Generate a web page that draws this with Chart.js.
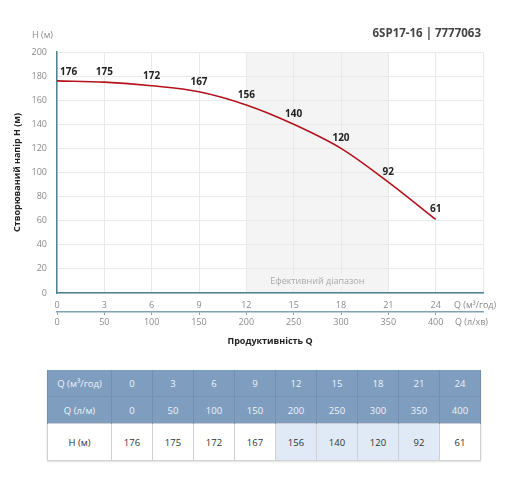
<!DOCTYPE html>
<html>
<head>
<meta charset="utf-8">
<script src="https://cdn.jsdelivr.net/npm/chart.js@4.4.1/dist/chart.umd.min.js"></script>
<style>
  body { margin: 0; background: #fff; font-family: 'Open Sans', sans-serif; }
  #wrap { position: relative; width: 512px; height: 360px; }
  #tbl { position: absolute; left: 47px; top: 370px; width: 433px; table-layout: fixed;
         border-collapse: collapse; font-size: 9.5px; box-shadow: 0 1px 2px rgba(0,0,0,0.12); }
  #tbl td { text-align: center; padding: 0; overflow: hidden; white-space: nowrap; }
  #tbl tr.hd td { background: #7f9dbf; color: #eef3f9; border-left: 1px solid #7190b3; border-right: 1px solid #7190b3; height: 26px; }
  #tbl tr.hd1 td { border-bottom: 1px solid #7593b6; }
  #tbl tr.val td { background: #fff; color: #333; border: 1px solid #d0d0d0; height: 36px; }
  #tbl tr.val td.eff { background: #dfeaf6; }
</style>
</head>
<body>
<div id="wrap"><canvas id="chart" width="512" height="360"></canvas></div>
<table id="tbl"><colgroup id="cols"></colgroup></table>
<script>
// Q in m3/h, Q in l/min, head H in m
const qM3 = [0, 3, 6, 9, 12, 15, 18, 21, 24];
const qLmin = [0, 50, 100, 150, 200, 250, 300, 350, 400];
const headM = [176, 175, 172, 167, 156, 140, 120, 92, 61];
const effFrom = 12;
const effTo = 21;

const axisTeal = '#4f8396';
const gridGrey = '#e9e9e9';
const tickGrey = '#8a8a8a';
const font = "'Open Sans', sans-serif";

// table below the chart
const tbl = document.getElementById('tbl');
const cols = document.getElementById('cols');
cols.innerHTML = '<col style="width:64px">' + qM3.map(() => '<col style="width:41px">').join('');
function addRow(cls, title, vals, markEff) {
  const tr = document.createElement('tr');
  tr.className = cls;
  let html = `<td>${title}</td>`;
  vals.forEach((v, i) => {
    const eff = markEff && qM3[i] >= effFrom && qM3[i] <= effTo;
    html += `<td${eff ? ' class="eff"' : ''}>${v}</td>`;
  });
  tr.innerHTML = html;
  tbl.appendChild(tr);
}
addRow('hd hd1', 'Q (м³/год)', qM3, false);
addRow('hd', 'Q (л/м)', qLmin, false);
addRow('val', 'H (м)', headM, true);

const extras = {
  id: 'extras',
  beforeDraw(chart) {
    const {ctx, chartArea: a, scales: {x}} = chart;
    ctx.save();
    ctx.fillStyle = '#f4f4f4';
    const x0 = x.getPixelForValue(effFrom), x1 = x.getPixelForValue(effTo);
    ctx.fillRect(x0, a.top, x1 - x0, a.bottom - a.top);
    ctx.restore();
  },
  beforeDatasetsDraw(chart) {
    const {ctx, chartArea: a, scales: {x}} = chart;
    const x0 = x.getPixelForValue(effFrom), x1 = x.getPixelForValue(effTo);
    ctx.save();
    ctx.font = `9px ${font}`;
    const label = 'Ефективний діапазон';
    const w = ctx.measureText(label).width;
    ctx.fillStyle = '#f4f4f4';
    ctx.fillRect((x0 + x1) / 2 - w / 2 - 2, a.bottom - 18, w + 4, 12);
    ctx.fillStyle = '#a9a9a9';
    ctx.textAlign = 'center';
    ctx.textBaseline = 'middle';
    ctx.fillText(label, (x0 + x1) / 2, a.bottom - 12);
    ctx.restore();
  },
  afterDraw(chart) {
    const {ctx} = chart;
    ctx.save();
    ctx.textBaseline = 'middle';
    // point labels
    const meta = chart.getDatasetMeta(0);
    ctx.font = `bold 10px ${font}`;
    ctx.fillStyle = '#222';
    meta.data.forEach((pt, i) => {
      if (i === 0) {
        ctx.textAlign = 'left';
        ctx.fillText(headM[i], pt.x + 3, pt.y - 9);
      } else {
        ctx.textAlign = 'center';
        ctx.fillText(headM[i], pt.x, pt.y - 10);
      }
    });
    // header texts
    ctx.font = `9px ${font}`;
    ctx.fillStyle = tickGrey;
    ctx.textAlign = 'left';
    ctx.fillText('H (м)', 32, 35);
    ctx.fillText('Q (м³/год)', 454, 305);
    ctx.fillText('Q (л/хв)', 455, 322);
    ctx.font = `bold 11.5px ${font}`;
    ctx.fillStyle = '#444';
    ctx.textAlign = 'right';
    ctx.fillText('6SP17-16 | 7777063', 481, 34);
    ctx.restore();
  }
};

new Chart(document.getElementById('chart'), {
  type: 'line',
  data: {
    datasets: [{
      data: qM3.map((q, i) => ({x: q, y: headM[i]})),
      borderColor: '#b3121c',
      borderWidth: 1.6,
      pointRadius: 0,
      cubicInterpolationMode: 'monotone',
      fill: false
    }]
  },
  options: {
    responsive: false,
    animation: false,
    layout: {padding: {top: 52, right: 29, bottom: 8, left: 0}},
    plugins: {legend: {display: false}, tooltip: {enabled: false}},
    scales: {
      x: {
        type: 'linear', position: 'bottom', weight: 0,
        min: 0, max: 27,
        ticks: {stepSize: 3, color: tickGrey, font: {size: 9, family: font}, padding: 7,
                maxRotation: 0, callback: v => v > 24 ? '' : v},
        grid: {color: gridGrey, drawTicks: false},
        border: {color: axisTeal, width: 1.5},
        afterFit: s => { s.height = 19; }
      },
      x2: {
        type: 'linear', position: 'bottom', weight: 1,
        min: 0, max: 450,
        ticks: {stepSize: 50, color: tickGrey, font: {size: 9, family: font}, padding: 2,
                maxRotation: 0, callback: v => v > 400 ? '' : v},
        grid: {drawOnChartArea: false, tickLength: 3,
               color: c => c.tick && c.tick.value > 400 ? 'rgba(0,0,0,0)' : '#7fa3b1'},
        border: {color: '#7fa3b1', width: 1.5},
        title: {display: true, text: 'Продуктивність Q', color: '#222',
                font: {size: 9, weight: 'bold', family: font}, padding: {bottom: 5}},
        afterFit: s => { s.height = 40; }
      },
      y: {
        min: 0, max: 200,
        ticks: {stepSize: 20, color: tickGrey, font: {size: 9, family: font}, padding: 10},
        grid: {color: gridGrey, drawTicks: false},
        border: {color: axisTeal, width: 1.5},
        title: {display: true, text: 'Створюваний напір H (м)', color: '#222',
                font: {size: 9, weight: 'bold', family: font}, padding: {top: 12}},
        afterFit: s => { s.width = 57; }
      }
    }
  },
  plugins: [extras]
});
</script>
</body>
</html>
